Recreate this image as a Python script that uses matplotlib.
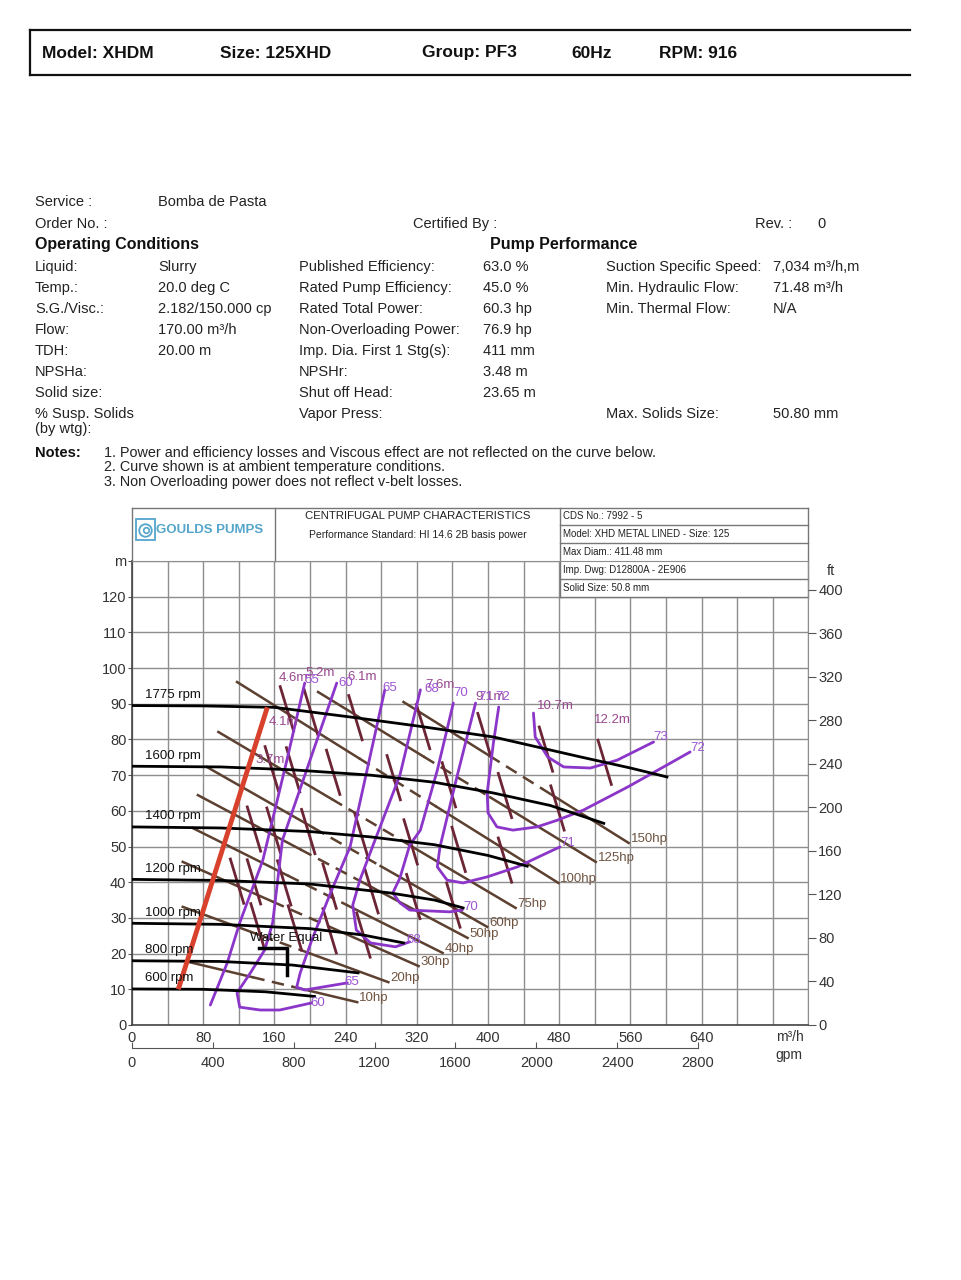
"""XHDM 125XHD pump performance sheet"""

import matplotlib.pyplot as plt
from matplotlib.patches import Rectangle

plt.rcParams["font.family"] = ["Liberation Sans", "DejaVu Sans"]

FIG_W, FIG_H = 962, 1280

# ---- header / data sheet text ----
header_labels = ["Model: XHDM", "Size: 125XHD", "Group: PF3", "60Hz", "RPM: 916"]
header_x = [42, 220, 422, 571, 659]

col1_text = ["Service :", "Order No. :", "Liquid:", "Temp.:", "S.G./Visc.:", "Flow:", "TDH:",
             "NPSHa:", "Solid size:", "% Susp. Solids", "(by wtg):"]
col1_y = [202, 224, 267, 288, 309, 330, 351, 372, 393, 414, 429]
col2_text = ["Bomba de Pasta", "Slurry", "20.0 deg C", "2.182/150.000 cp", "170.00 m³/h", "20.00 m"]
col2_y = [202, 267, 288, 309, 330, 351]
col3_text = ["Published Efficiency:", "Rated Pump Efficiency:", "Rated Total Power:",
             "Non-Overloading Power:", "Imp. Dia. First 1 Stg(s):", "NPSHr:", "Shut off Head:",
             "Vapor Press:"]
col3_y = [267, 288, 309, 330, 351, 372, 393, 414]
col4_text = ["63.0 %", "45.0 %", "60.3 hp", "76.9 hp", "411 mm", "3.48 m", "23.65 m"]
col4_y = [267, 288, 309, 330, 351, 372, 393]
col5_text = ["Suction Specific Speed:", "Min. Hydraulic Flow:", "Min. Thermal Flow:", "Max. Solids Size:"]
col5_y = [267, 288, 309, 414]
col6_text = ["7,034 m³/h,m", "71.48 m³/h", "N/A", "50.80 mm"]
col6_y = [267, 288, 309, 414]
notes = ["1. Power and efficiency losses and Viscous effect are not reflected on the curve below.",
         "2. Curve shown is at ambient temperature conditions.",
         "3. Non Overloading power does not reflect v-belt losses."]
notes_y = [453, 467, 482]

# ---- chart title box ----
box_rows = ["CDS No.: 7992 - 5", "Model: XHD METAL LINED - Size: 125", "Max Diam.: 411.48 mm",
            "Imp. Dwg: D12800A - 2E906", "Solid Size: 50.8 mm"]

# ---- head-capacity curves (m3/h, m) ----
speed_labels = ["1775 rpm", "1600 rpm", "1400 rpm", "1200 rpm", "1000 rpm", "800 rpm", "600 rpm"]
speed_q = [
    [0, 80, 160, 245, 320, 406, 504, 560, 601],
    [0, 100, 180, 268, 340, 406, 470, 530],
    [0, 100, 200, 268, 340, 400, 444],
    [0, 100, 200, 290, 340, 372],
    [0, 100, 200, 260, 305],
    [0, 100, 180, 254],
    [0, 80, 150, 205],
]
speed_h = [
    [89.5, 89.4, 89.0, 86.3, 83.8, 80.7, 75.1, 72.0, 69.5],
    [72.5, 72.3, 71.5, 70.0, 68.0, 65.0, 61.5, 56.5],
    [55.5, 55.2, 54.2, 52.7, 50.5, 47.5, 44.5],
    [40.8, 40.5, 39.5, 37.0, 35.0, 32.8],
    [28.5, 28.2, 27.0, 25.2, 23.0],
    [18.0, 17.8, 16.8, 14.6],
    [10.1, 10.0, 9.3, 8.0],
]

# minimum flow line
minflow_q = [52, 152]
minflow_h = [10, 89]

# duty point marker
water_q = [143, 174, 174]
water_h = [21.6, 21.6, 14.0]

# ---- iso-efficiency curves (%) ----
eff_labels = ["55", "60", "65", "68", "70", "71", "72", "73"]
eff_q = [
    [194, 174, 147, 121, 107, 88],
    [230, 200, 169, 158, 149, 133, 118, 121, 144, 166, 202],
    [284, 245, 223, 202, 189, 185, 194, 242],
    [324, 301, 273, 256, 248, 252, 268, 296, 312],
    [361, 343, 324, 312, 301, 293, 301, 312, 357, 371],
    [386, 365, 346, 343, 354, 372, 399, 433, 473, 481],
    [412, 406, 399, 400, 410, 428, 455, 478, 507, 557, 605, 627],
    [451, 453, 467, 485, 515, 545, 586],
]
eff_h = [
    [95.8, 74.2, 46.2, 28.6, 17.4, 5.6],
    [95.8, 74.2, 51.8, 28.6, 21.0, 14.6, 9.0, 5.0, 4.2, 4.2, 6.2],
    [93.9, 49.9, 37.0, 23.8, 14.6, 10.6, 9.8, 11.8],
    [93.9, 70.0, 51.8, 40.6, 33.6, 26.6, 23.0, 21.9, 23.3],
    [90.2, 71.4, 54.6, 50.4, 41.2, 37.0, 34.2, 32.2, 31.7, 32.2],
    [90.2, 69.5, 49.9, 44.3, 40.6, 39.8, 41.5, 44.3, 49.0, 49.9],
    [89.1, 79.0, 65.0, 59.4, 55.5, 54.6, 55.5, 57.4, 60.2, 66.7, 73.4, 76.5],
    [87.4, 80.7, 75.1, 72.3, 72.0, 74.2, 79.3],
]
eff_top_q = [202, 240, 290, 337, 369, 397, 417]
eff_top_h = [96.7, 95.8, 94.4, 94.1, 93.0, 91.9, 91.9]
eff_top_text = ["55", "60", "65", "68", "70", "71", "72"]
eff_end_q = [209, 247, 316, 380, 489, 594, 635]
eff_end_h = [6.2, 12.0, 23.8, 33.0, 51.0, 80.7, 77.6]
eff_end_text = ["60", "65", "68", "70", "71", "73", "72"]

# ---- NPSHr marks (segment centres) ----
npsh_q = [
    [174, 157, 137, 118],
    [201, 181, 159, 137],
    [251, 226, 198, 171, 141],
    [327, 294, 258, 222, 183],
    [396, 356, 313, 269, 222],
    [465, 419, 367, 316, 260],
    [531, 478, 419, 361],
]
npsh_h = [
    [88.6, 71.8, 54.9, 40.3],
    [87.7, 71.5, 54.6, 40.1],
    [86.1, 70.8, 54.2, 39.8, 27.8],
    [83.6, 69.3, 52.9, 38.9, 27.2],
    [81.1, 67.3, 51.3, 37.6, 26.4],
    [77.3, 64.3, 49.2, 36.0, 25.2],
    [73.6, 60.8, 46.2, 33.6],
]
npsh_text = ["3.7m", "4.1m", "4.6m", "5.2m", "6.1m", "7.6m", "9.1m", "10.7m", "12.2m"]
npsh_text_q = [155, 170, 181, 211, 259, 346, 402, 476, 540]
npsh_text_h = [74.2, 84.9, 97.2, 98.6, 97.5, 95.3, 91.9, 89.4, 85.5]

# ---- power lines ----
hp_labels = ["10hp", "20hp", "30hp", "40hp", "50hp", "60hp", "75hp", "100hp", "125hp", "150hp"]
hp_q0 = [63, 57, 57, 68, 74, 84, 97, 118, 209, 305]
hp_h0 = [17.7, 33.1, 45.7, 55.2, 64.4, 72.3, 82.1, 96.1, 93.3, 90.5]
hp_q1 = [253, 288, 322, 349, 377, 399, 431, 479, 521, 558]
hp_h1 = [6.4, 12.0, 16.5, 20.2, 24.4, 27.5, 32.8, 39.8, 45.7, 51.0]

GPM_PER_M3H = 4.40287
FT_PER_M = 3.28084

C_EFF = "#8b35c9"
C_EFF_TXT = "#9d55d2"
C_NPSH = "#6c2535"
C_NPSH_TXT = "#98488f"
C_HP = "#5c4030"
C_HP_TXT = "#6f5441"
C_GRID = "#8e8e8e"
C_TXT = "#222222"

fig = plt.figure(figsize=(FIG_W / 100, FIG_H / 100), dpi=100)

# page layer in pixel coordinates
page = fig.add_axes([0, 0, 1, 1])
page.set_xlim(0, FIG_W)
page.set_ylim(FIG_H, 0)
page.axis("off")

page.plot([30, 910], [30, 30], color="#111", lw=1.6)
page.plot([30, 910], [75, 75], color="#111", lw=1.6)
page.plot([30, 30], [30, 75], color="#111", lw=1.6)
for x, s in zip(header_x, header_labels):
    page.text(x, 53, s, fontsize=12.5, fontweight="bold", va="center", color="#111")

txt = dict(fontsize=10.5, va="center", color=C_TXT)
for s, y in zip(col1_text, col1_y):
    page.text(35, y, s, **txt)
for s, y in zip(col2_text, col2_y):
    page.text(158, y, s, **txt)
for s, y in zip(col3_text, col3_y):
    page.text(299, y, s, **txt)
for s, y in zip(col4_text, col4_y):
    page.text(483, y, s, **txt)
for s, y in zip(col5_text, col5_y):
    page.text(606, y, s, **txt)
for s, y in zip(col6_text, col6_y):
    page.text(773, y, s, **txt)
page.text(413, 224, "Certified By :", **txt)
page.text(755, 224, "Rev. :", **txt)
page.text(817, 224, "0", **txt)
page.text(35, 245, "Operating Conditions", fontsize=11.5, fontweight="bold", va="center", color="#111")
page.text(490, 245, "Pump Performance", fontsize=11.5, fontweight="bold", va="center", color="#111")
page.text(35, 453, "Notes:", fontsize=10.5, fontweight="bold", va="center", color="#111")
for s, y in zip(notes, notes_y):
    page.text(104, y, s, fontsize=10.4, va="center", color=C_TXT)

page.text(790, 1037, "m³/h", fontsize=10, ha="center", va="center", color="#333")
page.text(789, 1055, "gpm", fontsize=10, ha="center", va="center", color="#333")
page.text(831, 571, "ft", fontsize=10.5, ha="center", va="center", color="#333")

# chart axes
ax = fig.add_axes([132 / FIG_W, 1 - 1025 / FIG_H, 676.5 / FIG_W, 464 / FIG_H])
ax.set_xlim(0, 760)
ax.set_ylim(0, 130)
xt = list(range(0, 761, 40))
ax.set_xticks(xt)
ax.set_xticklabels([str(v) if v % 80 == 0 and v <= 640 else "" for v in xt])
ax.set_yticks(range(0, 131, 10))
ax.set_yticklabels([str(v) for v in range(0, 121, 10)] + ["m"])
ax.tick_params(axis="x", length=0, pad=4, labelsize=10.5, labelcolor="#333")
ax.tick_params(axis="y", length=3, pad=1, labelsize=10.5, labelcolor="#333", color="#555")
ax.grid(color=C_GRID, lw=1.0)
ax.set_axisbelow(True)
for side in ["left", "bottom"]:
    ax.spines[side].set_color("#444")
    ax.spines[side].set_linewidth(1.2)
for side in ["top", "right"]:
    ax.spines[side].set_color(C_GRID)

ax2 = ax.twinx()
ax2.set_ylim(0, 130 * FT_PER_M)
ax2.set_yticks(range(0, 401, 40))
for sp in ax2.spines.values():
    sp.set_visible(False)
ax2.tick_params(axis="y", length=6, pad=1, labelsize=10.5, labelcolor="#333", color="#555")

# title box above the grid
BOX_TOP = 144.8
box = dict(color="#777", lw=1.0, clip_on=False, zorder=2)
ax.plot([0, 760], [BOX_TOP, BOX_TOP], **box)
ax.plot([0, 0], [130, BOX_TOP], **box)
ax.plot([760, 760], [120, BOX_TOP], **box)
ax.plot([161, 161], [130, BOX_TOP], **box)
ax.plot([481, 481], [120, BOX_TOP], **box)
ax.add_patch(Rectangle((481, 120), 279, 10, facecolor="white", edgecolor="none", zorder=1.5))
for hh in [140, 135, 125, 120]:
    ax.plot([481, 760], [hh, hh], **box)
ax.text(321, 142.6, "CENTRIFUGAL PUMP CHARACTERISTICS", fontsize=8.2, ha="center", va="center",
        color="#222")
ax.text(321, 137.3, "Performance Standard: HI 14.6 2B basis power", fontsize=7.5, ha="center",
        va="center", color="#222")
for s, hh in zip(box_rows, [142.5, 137.6, 132.5, 127.5, 122.4]):
    ax.text(484, hh, s, fontsize=7, va="center", color="#222", zorder=3)

# Goulds logo
ax.add_patch(Rectangle((4.5, 136.0), 21, 5.7, facecolor="none", edgecolor="#55a5cb", lw=1.3,
                       clip_on=False))
ax.plot([15], [138.8], marker="o", ms=9, mfc="none", mec="#55a5cb", mew=1.3, clip_on=False)
ax.plot([15.8], [138.6], marker="o", ms=4, mfc="none", mec="#55a5cb", mew=1.2, clip_on=False)
ax.text(27, 138.8, "GOULDS PUMPS", fontsize=9.5, color="#55a5cb", va="center", fontweight="bold")

# power lines, dashed in the middle
DASH_FROM, DASH_TO = 0.38, 0.62
for lab, q0, h0, q1, h1 in zip(hp_labels, hp_q0, hp_h0, hp_q1, hp_h1):
    qa, ha = q0 + DASH_FROM * (q1 - q0), h0 + DASH_FROM * (h1 - h0)
    qb, hb = q0 + DASH_TO * (q1 - q0), h0 + DASH_TO * (h1 - h0)
    ax.plot([q0, qa], [h0, ha], color=C_HP, lw=1.8, zorder=3)
    ax.plot([qa, qb], [ha, hb], color=C_HP, lw=1.8, ls=(0, (5, 3)), zorder=3)
    ax.plot([qb, q1], [hb, h1], color=C_HP, lw=1.8, zorder=3)
    ax.text(q1 + 2, h1 + 1.2, lab, fontsize=9.5, color=C_HP_TXT, va="center", ha="left")

# NPSH marks
for qs, hs in zip(npsh_q, npsh_h):
    for q, h in zip(qs, hs):
        ax.plot([q - 7.5, q + 7.5], [h + 6.2, h - 6.2], color=C_NPSH, lw=2, zorder=3.5)
for s, q, h in zip(npsh_text, npsh_text_q, npsh_text_h):
    ax.text(q, h, s, fontsize=9.5, color=C_NPSH_TXT, ha="center", va="center", zorder=7)

# efficiency curves
for qs, hs in zip(eff_q, eff_h):
    ax.plot(qs, hs, color=C_EFF, lw=2, zorder=4, solid_capstyle="round")
for s, q, h in zip(eff_top_text, eff_top_q, eff_top_h):
    ax.text(q, h, s, fontsize=9.5, color=C_EFF_TXT, ha="center", va="center", zorder=7)
for s, q, h in zip(eff_end_text, eff_end_q, eff_end_h):
    ax.text(q, h, s, fontsize=9.5, color=C_EFF_TXT, ha="center", va="center", zorder=7)

# head curves
for lab, qs, hs in zip(speed_labels, speed_q, speed_h):
    ax.plot(qs, hs, color="black", lw=2, zorder=5)
    ax.text(15, hs[0] + 3, lab, fontsize=9.5, color="#111", va="center", ha="left", zorder=7)

ax.plot(minflow_q, minflow_h, color="#d8412c", lw=3.5, zorder=6, solid_capstyle="butt")
ax.plot(water_q, water_h, color="black", lw=2.5, zorder=6)
ax.text(133, 24.3, "Water Equal", fontsize=9.5, color="#111", va="center", ha="left", zorder=7)

# gpm scale
axg = fig.add_axes([132 / FIG_W, 1 - 1048 / FIG_H, 676.5 / FIG_W, 0.0001])
axg.set_xlim(0, 760 * GPM_PER_M3H)
axg.set_ylim(0, 1)
axg.set_yticks([])
axg.patch.set_visible(False)
for side in ["top", "left", "right"]:
    axg.spines[side].set_visible(False)
axg.spines["bottom"].set_bounds(0, 2800)
axg.spines["bottom"].set_color("#555")
axg.set_xticks(range(0, 2801, 400))
axg.tick_params(axis="x", direction="in", length=4, pad=6, labelsize=10.5, labelcolor="#333",
                color="#555")

fig.savefig("out.png", dpi=100, facecolor="white")
